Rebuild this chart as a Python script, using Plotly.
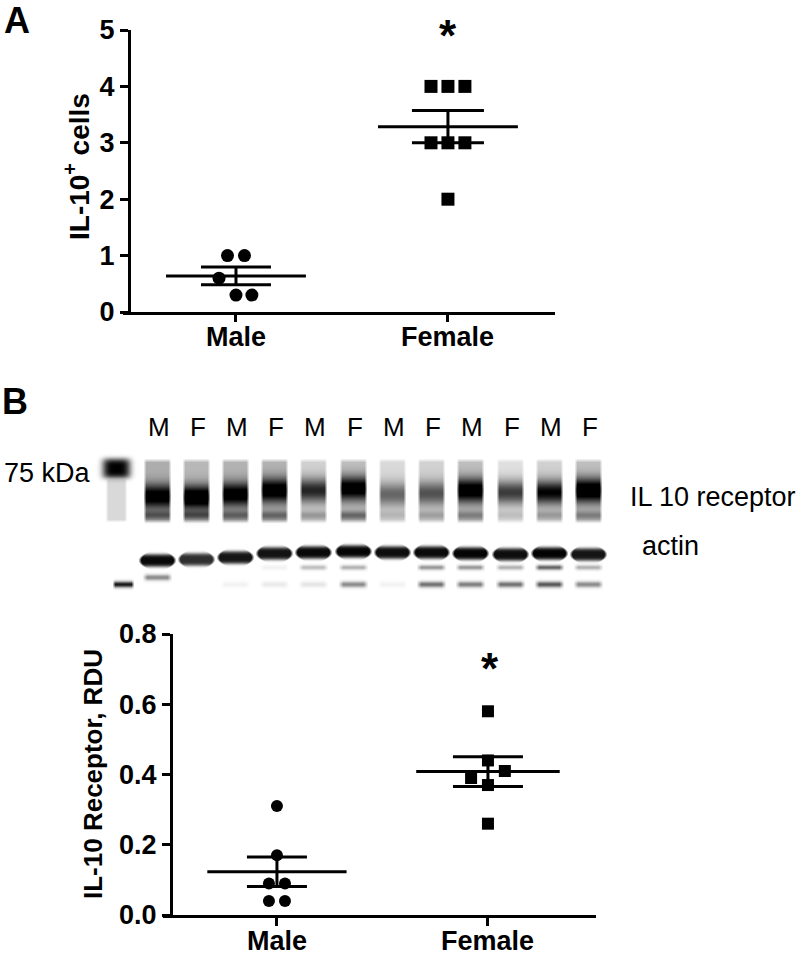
import numpy as np
import plotly.graph_objects as go

W, H = 800, 958
FONT = 'Liberation Sans, Arial, sans-serif'

groups = ['Male', 'Female']

# Panel A: IL-10+ cells
male_a = [1.0, 1.0, 0.6, 0.3, 0.3]
male_a_off = [-0.04, 0.04, -0.08, 0.0, 0.075]
female_a = [4, 4, 4, 3, 3, 3, 2]
female_a_off = [-0.08, 0.0, 0.08, -0.08, 0.0, 0.08, 0.0]

# Panel B: IL-10 receptor, RDU
male_b = [0.31, 0.17, 0.09, 0.09, 0.04, 0.04]
male_b_off = [0.0, 0.0, -0.038, 0.038, -0.038, 0.038]
female_b = [0.58, 0.44, 0.41, 0.39, 0.37, 0.26]
female_b_off = [0.0, 0.0, 0.08, -0.08, 0.0, 0.0]

# western blot lanes (relative darkness 0..1)
lane_labels = ['M', 'F', 'M', 'F', 'M', 'F', 'M', 'F', 'M', 'F', 'M', 'F']
lane_x = [157, 196, 235, 274, 313, 353, 392, 431, 470, 510, 549, 588]
receptor_bg = [0.32, 0.28, 0.30, 0.30, 0.18, 0.25, 0.15, 0.18, 0.25, 0.12, 0.18, 0.25]
receptor_main = [0.80, 0.95, 0.82, 0.85, 0.68, 0.88, 0.45, 0.50, 0.90, 0.65, 0.82, 0.97]
receptor_y = [496, 497, 494, 490, 490, 488, 494, 493, 490, 492, 492, 490]
receptor_low = [0.30, 0.35, 0.30, 0.30, 0.22, 0.35, 0.12, 0.18, 0.25, 0.12, 0.20, 0.25]
actin = [0.97, 0.82, 0.92, 0.93, 0.97, 0.98, 0.95, 0.96, 0.98, 0.95, 0.99, 0.92]
actin_y = [560, 559, 557, 553, 552, 551, 552, 552, 553, 554, 553, 554]
band_mid = [0.0, 0.0, 0.0, 0.05, 0.25, 0.30, 0.0, 0.40, 0.40, 0.30, 0.60, 0.30]
band_low = [0.45, 0.0, 0.05, 0.08, 0.10, 0.45, 0.05, 0.55, 0.50, 0.55, 0.65, 0.45]
band_low_y = [577, 584, 584, 584, 584, 584, 584, 584, 584, 584, 584, 584]


def px(x):
    return x / W


def py(y):
    return 1 - y / H


def box(d, half, soft):
    return np.clip((half - np.abs(d)) / soft, 0, 1)


def sem(v):
    v = np.asarray(v, dtype=float)
    return v.std(ddof=1) / np.sqrt(len(v))


fig = go.Figure()


def add_group(xa, ya, center, vals, offs, symbol, size, mean_half, cap):
    m = float(np.mean(vals))
    fig.add_trace(go.Scatter(
        x=[center - mean_half, center + mean_half], y=[m, m], mode='lines',
        line=dict(color='black', width=3), xaxis=xa, yaxis=ya, hoverinfo='skip'))
    fig.add_trace(go.Scatter(
        x=[center], y=[m], mode='markers', marker=dict(size=1, color='black'),
        error_y=dict(type='data', array=[sem(vals)], color='black', thickness=3, width=cap),
        xaxis=xa, yaxis=ya, hoverinfo='skip'))
    fig.add_trace(go.Scatter(
        x=[center + o for o in offs], y=vals, mode='markers',
        marker=dict(symbol=symbol, size=size, color='black'),
        xaxis=xa, yaxis=ya, cliponaxis=False))


add_group('x', 'y', 0, male_a, male_a_off, 'circle', 13, 0.33, 35)
add_group('x', 'y', 1, female_a, female_a_off, 'square', 13, 0.33, 36)
add_group('x2', 'y2', 0, male_b, male_b_off, 'circle', 12, 0.33, 30)
add_group('x2', 'y2', 1, female_b, female_b_off, 'square', 12, 0.34, 35)

# blot image
bx = np.arange(95, 611)
by = np.arange(450, 596)
X, Y = np.meshgrid(bx, by)
z = np.zeros(X.shape)
for i, cx in enumerate(lane_x):
    dx = X - cx
    lane = box(dx, 14, 3)
    z += lane * receptor_bg[i] * box(Y - 490.5, 32.5, 4)
    z += lane * receptor_main[i] * np.exp(-((Y - receptor_y[i]) / 12.0) ** 2)
    z += lane * receptor_low[i] * np.exp(-((Y - 515) / 4.5) ** 2)
    dy = (Y - actin_y[i]) / 6.5
    z += box(dx, 19 - 5 * dy ** 2, 3) * actin[i] * np.exp(-dy ** 4)
    z += box(dx, 15, 5) * band_mid[i] * np.exp(-((Y - 567) / 2.5) ** 2)
    z += box(dx, 15, 5) * band_low[i] * np.exp(-((Y - band_low_y[i]) / 3.0) ** 2)
# ladder
z += np.exp(-((X - 116) / 14.0) ** 4 - ((Y - 468) / 10.0) ** 4)
z += box(X - 116, 11, 3) * 0.15 * box(Y - 500, 22, 3)
z += box(X - 123, 11, 3) * 0.9 * np.exp(-((Y - 584) / 3.0) ** 2)
z = np.clip(z, 0, 1)

fig.add_trace(go.Heatmap(
    x=bx, y=by, z=z, colorscale=[[0, '#ffffff'], [1, '#000000']],
    zmin=0, zmax=1, showscale=False, xaxis='x3', yaxis='y3', hoverinfo='skip'))

tick_font = dict(family=FONT, size=27, color='black', weight='bold')
ax_common = dict(showline=True, linewidth=3, linecolor='black', ticks='outside',
                 tickwidth=3, tickcolor='black', showgrid=False, zeroline=False,
                 tickfont=tick_font, automargin=False)

fig.update_layout(
    width=W, height=H, margin=dict(l=0, r=0, t=0, b=0, autoexpand=False),
    paper_bgcolor='white', plot_bgcolor='white', showlegend=False,
    xaxis=dict(domain=[px(123), px(555)], range=[-0.533, 1.505], anchor='y',
               tickvals=[0, 1], showticklabels=False, ticklen=7, **ax_common),
    yaxis=dict(domain=[py(312), py(30)], range=[0, 5], anchor='free', position=px(129),
               tickvals=[0, 1, 2, 3, 4, 5], ticklen=8, **ax_common),
    xaxis2=dict(domain=[px(163), px(596)], range=[-0.540, 1.512], anchor='y2',
                tickvals=[0, 1], showticklabels=False, ticklen=8, **ax_common),
    yaxis2=dict(domain=[py(915), py(634)], range=[0, 0.8], anchor='free', position=px(171),
                tickvals=[0, 0.2, 0.4, 0.6, 0.8], tickformat='.1f', ticklen=8, **ax_common),
    xaxis3=dict(domain=[px(95), px(611)], range=[94.5, 610.5], visible=False,
                anchor='y3', automargin=False),
    yaxis3=dict(domain=[py(596), py(450)], range=[595.5, 449.5], visible=False,
                anchor='x3', automargin=False),
)

ann = []


def text(x, y, s, size, bold=False, angle=0, xanchor='center', xref='paper'):
    ann.append(dict(x=px(x) if xref == 'paper' else x, y=py(y), xref=xref, yref='paper',
                    text=s, showarrow=False, textangle=angle, xanchor=xanchor,
                    yanchor='middle',
                    font=dict(family=FONT, size=size, color='black',
                              weight='bold' if bold else 'normal')))


text(17, 20, 'A', 36, bold=True)
text(15, 401, 'B', 36, bold=True)
text(77, 167, 'IL-10<sup>+</sup> cells', 28, bold=True, angle=-90)
text(93, 774, 'IL-10 Receptor, RDU', 26, bold=True, angle=-90)
text(448, 35, '*', 44, bold=True)
text(490, 668, '*', 44, bold=True)
for i, g in enumerate(groups):
    text(i, 337, g, 27, bold=True, xref='x')
    text(i, 941, g, 27, bold=True, xref='x2')
for lx, lab in zip(lane_x, lane_labels):
    text(lx + 2, 427, lab, 26)
text(2, 473, '75 kDa', 27, xanchor='left')
text(628, 497, 'IL 10 receptor', 27, xanchor='left')
text(640, 546, 'actin', 27, xanchor='left')

fig.update_layout(annotations=ann)
fig.write_html('out.html', config={'displayModeBar': False},
               post_script="document.body.style.margin='0px';")
